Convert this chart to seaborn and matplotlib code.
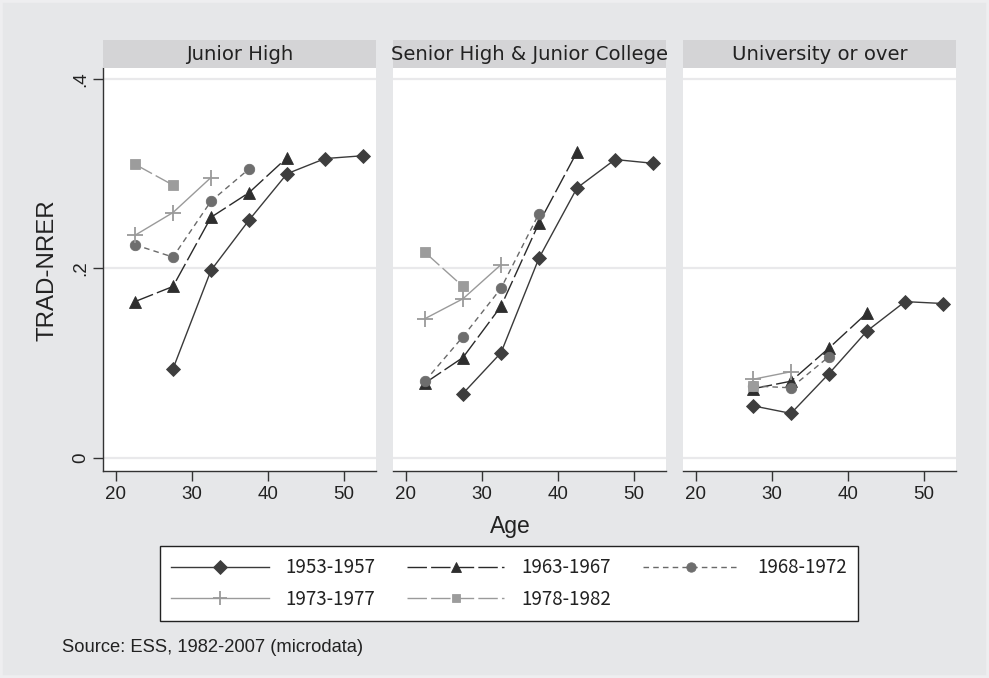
import numpy as np
import pandas as pd
import matplotlib
matplotlib.use("Agg")
import matplotlib.pyplot as plt
from matplotlib.lines import Line2D
from matplotlib.patches import Rectangle
import seaborn as sns

# ---------------- data ----------------
ages = [22.5, 27.5, 32.5, 37.5, 42.5, 47.5, 52.5]
panels = ["Junior High", "Senior High & Junior College", "University or over"]
cohorts = ["1953-1957", "1963-1967", "1968-1972", "1973-1977", "1978-1982"]
nan = np.nan

jh_1953 = [nan, 0.094, 0.198, 0.251, 0.300, 0.316, 0.319]
jh_1963 = [0.165, 0.181, 0.254, 0.280, 0.317, nan, nan]
jh_1968 = [0.225, 0.212, 0.271, 0.305, nan, nan, nan]
jh_1973 = [0.235, 0.259, 0.296, nan, nan, nan, nan]
jh_1978 = [0.310, 0.288, nan, nan, nan, nan, nan]

sh_1953 = [nan, 0.068, 0.111, 0.211, 0.285, 0.315, 0.311]
sh_1963 = [0.079, 0.106, 0.160, 0.248, 0.323, nan, nan]
sh_1968 = [0.081, 0.128, 0.179, 0.258, nan, nan, nan]
sh_1973 = [0.147, 0.168, 0.204, nan, nan, nan, nan]
sh_1978 = [0.217, 0.181, nan, nan, nan, nan, nan]

un_1953 = [nan, 0.055, 0.047, 0.089, 0.134, 0.165, 0.163]
un_1963 = [nan, 0.073, 0.081, 0.116, 0.153, nan, nan]
un_1968 = [nan, 0.076, 0.074, 0.107, nan, nan, nan]
un_1973 = [nan, 0.083, 0.091, nan, nan, nan, nan]
un_1978 = [nan, 0.076, nan, nan, nan, nan, nan]

yticks = [0, 0.2, 0.4]
yticklabels = ["0", ".2", ".4"]
xticks = [20, 30, 40, 50]

series = {
    panels[0]: [jh_1953, jh_1963, jh_1968, jh_1973, jh_1978],
    panels[1]: [sh_1953, sh_1963, sh_1968, sh_1973, sh_1978],
    panels[2]: [un_1953, un_1963, un_1968, un_1973, un_1978],
}
rows = []
for p in panels:
    for c, vals in zip(cohorts, series[p]):
        for a, v in zip(ages, vals):
            if not np.isnan(v):
                rows.append(dict(panel=p, cohort=c, age=a, value=v))
df = pd.DataFrame(rows)

# ---------------- styles ----------------
styles = {
    "1953-1957": dict(color="#3a3a3a", marker="D", ls="-", ms=7.5, mfc="#3e3e3e"),
    "1963-1967": dict(color="#2a2a2a", marker="^", ls=(0, (14, 3)), ms=8, mfc="#2e2e2e"),
    "1968-1972": dict(color="#6a6a6a", marker="o", ls=(0, (4, 3)), ms=7.5, mfc="#6e6e6e"),
    "1973-1977": dict(color="#9a9a9a", marker="+", ls="-", ms=11, mfc="#9a9a9a"),
    "1978-1982": dict(color="#9a9a9a", marker="s", ls=(0, (14, 3)), ms=6.5, mfc="#9c9c9c"),
}

W, H = 989, 678
BG = "#e6e7e9"
fig = plt.figure(figsize=(W / 100, H / 100), dpi=100, facecolor=BG)
plt.rcParams["font.family"] = ["Liberation Sans", "DejaVu Sans"]

def fx(px):
    return px / W

def fy(py):
    return 1 - py / H

# light outer border like the reference
fig.patches.append(Rectangle((0, 0), 1, 1, transform=fig.transFigure, facecolor="none",
                             edgecolor="#eeeef0", linewidth=4, zorder=0))

lefts = [103, 393, 683]
right_w = 273
top, bottom = 68, 471
xlim = (18.3, 54.2)
ylim = (-0.0138, 0.4116)

for i, p in enumerate(panels):
    ax = fig.add_axes([fx(lefts[i]), fy(bottom), right_w / W, (bottom - top) / H])
    ax.set_facecolor("white")
    for y in yticks:
        ax.axhline(y, color="#e9e9eb", lw=1.6, zorder=0)
    sub = df[df.panel == p]
    for c in cohorts:
        d = sub[sub.cohort == c]
        st = styles[c]
        sns.lineplot(data=d, x="age", y="value", ax=ax, color=st["color"],
                     marker=st["marker"], linestyle=st["ls"], markersize=st["ms"],
                     markerfacecolor=st["mfc"], markeredgecolor=st["mfc"],
                     markeredgewidth=1.3 if st["marker"] == "+" else 0.6,
                     linewidth=1.0, errorbar=None, sort=False, legend=False)
    ax.set_xlim(*xlim)
    ax.set_ylim(*ylim)
    ax.set_xticks(xticks)
    ax.set_xticklabels([str(t) for t in xticks], fontsize=13.5, color="#222222")
    ax.set_xlabel("")
    ax.set_ylabel("")
    for s in ["top", "right"]:
        ax.spines[s].set_visible(False)
    ax.spines["bottom"].set_color("#333333")
    ax.spines["bottom"].set_linewidth(1.0)
    ax.tick_params(axis="x", length=7, width=1, color="#333333", pad=4)
    if i == 0:
        ax.set_yticks(yticks)
        ax.set_yticklabels(yticklabels, fontsize=13.5, rotation=90, va="center",
                           color="#222222")
        ax.spines["left"].set_color("#333333")
        ax.spines["left"].set_linewidth(1.0)
        ax.tick_params(axis="y", length=7, width=1, color="#333333", pad=3)
    else:
        ax.spines["left"].set_visible(False)
        ax.set_yticks([])
    # strip header
    fig.patches.append(Rectangle((fx(lefts[i]), fy(top)), right_w / W, 28 / H,
                                 transform=fig.transFigure, facecolor="#d4d4d6",
                                 edgecolor="none", zorder=0))
    fig.text(fx(lefts[i] + right_w / 2), fy(54), p, ha="center", va="center",
             fontsize=14.1, color="#222222", family=["DejaVu Sans"])

fig.text(fx(47), fy(270), "TRAD-NRER", rotation=90, ha="center", va="center",
         fontsize=17.3, color="#222222")
fig.text(fx(510), fy(527), "Age", ha="center", va="center", fontsize=16.5, color="#222222")

# legend, row-major order as in the reference
order = ["1953-1957", "1973-1977", "1963-1967", "1978-1982", "1968-1972"]
handles = []
for c in order:
    st = styles[c]
    handles.append(Line2D([], [], color=st["color"], marker=st["marker"], linestyle=st["ls"],
                          markersize=st["ms"] * 0.9, markerfacecolor=st["mfc"],
                          markeredgecolor=st["mfc"],
                          markeredgewidth=1.3 if st["marker"] == "+" else 0.6, linewidth=1.0))
leg = fig.legend(handles, order, ncol=3, loc="center",
                 bbox_to_anchor=(fx(160), fy(622), 698 / W, 77 / H), mode="expand",
                 handlelength=5.2, frameon=True, fancybox=False,
                 edgecolor="#222222", facecolor="white", framealpha=1,
                 borderaxespad=0, borderpad=0.6, columnspacing=1.0, labelspacing=0.55,
                 handletextpad=0.9,
                 prop={"family": ["Noto Sans CJK JP", "DejaVu Sans"], "size": 13.5})
leg.get_frame().set_linewidth(1.0)
for t in leg.get_texts():
    t.set_color("#222222")

fig.text(fx(62), fy(647), "Source: ESS, 1982-2007 (microdata)", ha="left", va="center",
         fontsize=13.2, color="#222222")

fig.savefig("out.png", dpi=100, facecolor=BG)
